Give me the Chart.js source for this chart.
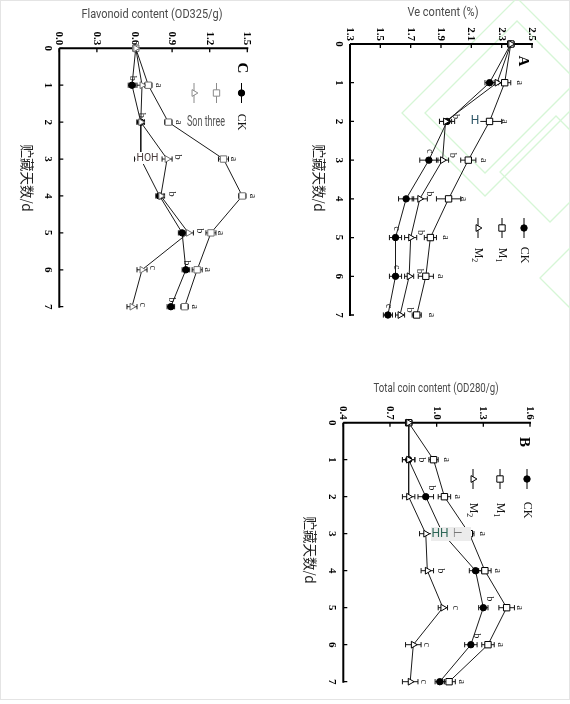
<!DOCTYPE html>
<html>
<head>
<meta charset="utf-8">
<script src="https://cdn.jsdelivr.net/npm/chart.js@4.4.1/dist/chart.umd.min.js"></script>
<style>
  html, body { margin: 0; padding: 0; background: #fff; }
  #wrap { position: relative; width: 570px; height: 704px; overflow: hidden; }
  #frame { position: absolute; left: 0; top: 0; width: 568px; height: 698px; border: 1px solid #e4e4e4; }
  canvas { position: absolute; }
</style>
</head>
<body>
<div id="wrap">
  <div id="frame"></div>
  <canvas id="chartC" width="290" height="340" style="left:0px;top:0px"></canvas>
  <canvas id="chartA" width="280" height="340" style="left:290px;top:0px"></canvas>
  <canvas id="chartB" width="280" height="344" style="left:290px;top:360px"></canvas>
</div>
<script>
// storage days (category axis, drawn vertically)
const days = [0, 1, 2, 3, 4, 5, 6, 7];
const dayTicks = ['0', '1', '2', '3', '4', '5', '6', '7'];

// A - Ve content (%)
const veTicks = [1.3, 1.5, 1.7, 1.9, 2.1, 2.3, 2.5];
const veCK = [2.36, 2.22, 1.94, 1.82, 1.67, 1.60, 1.60, 1.55];
const veM1 = [2.36, 2.32, 2.22, 2.08, 1.95, 1.83, 1.80, 1.74];
const veM2 = [2.36, 2.27, 1.93, 1.91, 1.76, 1.70, 1.69, 1.63];
const veCKErr = [0.02, 0.03, 0.05, 0.06, 0.05, 0.04, 0.04, 0.03];
const veM1Err = [0.02, 0.04, 0.08, 0.05, 0.08, 0.04, 0.05, 0.03];
const veM2Err = [0.02, 0.04, 0.04, 0.04, 0.05, 0.04, 0.03, 0.03];
const veCKSig = ['', '', '', 'c', '', 'c', 'c', 'c'];
const veM1Sig = ['', 'a', 'a', 'a', 'a', 'a', 'a', 'a'];
const veM2Sig = ['', '', 'b', 'b', 'b', 'b', 'b', 'b'];

// C - Flavonoid content (OD325/g)
const flaTicks = [0.0, 0.3, 0.6, 0.9, 1.2, 1.5];
const flaCK = [0.61, 0.58, 0.65, 0.65, 0.80, 0.98, 1.01, 0.89];
const flaM1 = [0.61, 0.71, 0.87, 1.31, 1.46, 1.21, 1.10, 1.00];
const flaM2 = [0.61, 0.66, 0.65, 0.86, 0.81, 1.03, 0.66, 0.58];
const flaCKErr = [0.02, 0.03, 0.03, 0.05, 0.03, 0.03, 0.03, 0.03];
const flaM1Err = [0.02, 0.03, 0.03, 0.04, 0.03, 0.04, 0.04, 0.03];
const flaM2Err = [0.02, 0.04, 0.03, 0.04, 0.03, 0.04, 0.04, 0.04];
const flaCKSig = ['', 'b', 'b', '', '', '', 'b', 'b'];
const flaM1Sig = ['', 'a', 'a', 'a', 'a', 'a', 'a', 'a'];
const flaM2Sig = ['', '', '', 'b', 'b', 'b', 'c', 'c'];

// B - Total coin content (OD280/g)
const tcTicks = [0.4, 0.7, 1.0, 1.3, 1.6];
const tcCK = [0.82, 0.82, 0.93, 1.04, 1.25, 1.30, 1.22, 1.02];
const tcM1 = [0.82, 0.98, 1.05, 1.21, 1.31, 1.45, 1.33, 1.08];
const tcM2 = [0.82, 0.82, 0.82, 0.93, 0.94, 1.04, 0.85, 0.83];
const tcCKErr = [0.02, 0.04, 0.05, 0.04, 0.04, 0.03, 0.04, 0.03];
const tcM1Err = [0.02, 0.03, 0.04, 0.03, 0.04, 0.05, 0.04, 0.04];
const tcM2Err = [0.02, 0.04, 0.04, 0.04, 0.04, 0.03, 0.05, 0.05];
const tcCKSig = ['', '', 'b', '', '', 'b', 'b', ''];
const tcM1Sig = ['', 'a', 'a', 'a', 'a', 'a', 'a', 'a'];
const tcM2Sig = ['', 'b', '', '', 'b', 'c', 'c', 'c'];

const SERIF = '"Liberation Serif", "DejaVu Serif", serif';
const SANS = 'Roboto, "Open Sans", sans-serif';
const CJK = '"Noto Sans CJK SC", sans-serif';
const INK = '#151515';

// marker look per treatment
const markerStyle = {
    CK: { pointStyle: 'circle', radius: 3.2, rotation: 0, fill: '#000' },
    M1: { pointStyle: 'rect', radius: 4.5, rotation: 0, fill: '#fff' },
    M2: { pointStyle: 'triangle', radius: 3.9, rotation: 90, fill: '#fff' },
};

// text rotated 90deg clockwise (whole figure is turned)
function rotText(ctx, text, x, y, font, color, align) {
    ctx.save();
    ctx.translate(x, y);
    ctx.rotate(Math.PI / 2);
    ctx.font = font;
    ctx.fillStyle = color || INK;
    ctx.textAlign = align || 'center';
    ctx.textBaseline = 'middle';
    ctx.fillText(text, 0, 0);
    ctx.restore();
}

function rotSub(ctx, base, sub, x, y) {
    ctx.save();
    ctx.translate(x, y);
    ctx.rotate(Math.PI / 2);
    ctx.fillStyle = INK;
    ctx.textAlign = 'left';
    ctx.textBaseline = 'middle';
    ctx.font = '12px ' + SERIF;
    const w = ctx.measureText(base).width;
    ctx.font = '8px ' + SERIF;
    const ws = ctx.measureText(sub).width;
    const x0 = -(w + ws) / 2;
    ctx.font = '12px ' + SERIF;
    ctx.fillText(base, x0, 0);
    ctx.font = '8px ' + SERIF;
    ctx.fillText(sub, x0 + w, 4);
    ctx.restore();
}

function plainText(ctx, text, x, y, font, color, maxW, bg) {
    ctx.save();
    ctx.font = font;
    ctx.textAlign = 'center';
    ctx.textBaseline = 'middle';
    if (bg) {
        const w = maxW || ctx.measureText(text).width;
        ctx.fillStyle = bg;
        ctx.fillRect(x - w / 2 - 1, y - 6, w + 2, 12);
    }
    ctx.fillStyle = color;
    if (maxW) ctx.fillText(text, x, y, maxW);
    else ctx.fillText(text, x, y);
    ctx.restore();
}

function makePanelPlugin(cfg) {
    return {
        id: 'panel_' + cfg.letter.text,
        beforeDraw(chart) {
            const ctx = chart.ctx;
            ctx.save();
            ctx.strokeStyle = '#d6f6d6';
            ctx.lineWidth = 1.3;
            (cfg.watermark || []).forEach(poly => {
                ctx.beginPath();
                poly.forEach((p, i) => (i ? ctx.lineTo(p[0], p[1]) : ctx.moveTo(p[0], p[1])));
                ctx.closePath();
                ctx.stroke();
            });
            ctx.restore();
        },
        beforeDatasetsDraw(chart) {
            const { ctx, chartArea: ca, scales: { x, y } } = chart;
            ctx.save();
            // axes: value axis on top, day axis on the left
            ctx.strokeStyle = '#000';
            ctx.lineWidth = 2;
            ctx.beginPath();
            ctx.moveTo(ca.left, ca.top);
            ctx.lineTo(ca.right + 1, ca.top);
            ctx.moveTo(ca.left, ca.top);
            ctx.lineTo(ca.left, ca.bottom + 1);
            ctx.stroke();
            ctx.lineWidth = 1.3;
            ctx.beginPath();
            cfg.ticks.forEach(t => {
                const px = x.getPixelForValue(t);
                ctx.moveTo(px, ca.top);
                ctx.lineTo(px, ca.top + 4);
            });
            days.forEach(d => {
                const py = y.getPixelForValue(d);
                ctx.moveTo(ca.left, py);
                ctx.lineTo(ca.left + 4, py);
            });
            ctx.stroke();
            cfg.ticks.forEach(t => {
                rotText(ctx, t.toFixed(1), x.getPixelForValue(t), ca.top - 3, 'bold 11px ' + SERIF, '#000', 'right');
            });
            days.forEach((d, i) => {
                rotText(ctx, dayTicks[i], ca.left - 11, y.getPixelForValue(d), 'bold 11px ' + SERIF, '#000');
            });

            // error bars under the markers
            ctx.strokeStyle = INK;
            ctx.lineWidth = 1;
            chart.data.datasets.forEach(ds => {
                ds.errors.forEach((e, i) => {
                    const p = ds.data[i];
                    const py = y.getPixelForValue(p.y);
                    const x1 = x.getPixelForValue(p.x - e);
                    const x2 = x.getPixelForValue(p.x + e);
                    ctx.beginPath();
                    ctx.moveTo(x1, py); ctx.lineTo(x2, py);
                    ctx.moveTo(x1, py - 2.6); ctx.lineTo(x1, py + 2.6);
                    ctx.moveTo(x2, py - 2.6); ctx.lineTo(x2, py + 2.6);
                    ctx.stroke();
                });
            });
            ctx.restore();
        },
        afterDatasetsDraw(chart) {
            const { ctx, scales: { x, y } } = chart;
            // significance letters
            chart.data.datasets.forEach(ds => {
                const off = cfg.sigOffset[ds.label];
                ds.sig.forEach((s, i) => {
                    if (!s) return;
                    const p = ds.data[i];
                    rotText(ctx, s, x.getPixelForValue(p.x) + off[0], y.getPixelForValue(p.y) + off[1],
                        '10px ' + SERIF, INK);
                });
            });

            // titles and panel letter
            plainText(ctx, cfg.title.text, cfg.title.x, cfg.title.y, '13px ' + SANS, '#4a4a4a', cfg.title.w);
            rotText(ctx, cfg.letter.text, cfg.letter.x, cfg.letter.y, 'bold 15px ' + SERIF, '#000');
            rotText(ctx, '贮藏天数/d', cfg.yTitle.x, cfg.yTitle.y, '13.5px ' + CJK, '#222');

            // legend (rotated, marker on a short vertical stroke)
            const lg = cfg.legend;
            lg.items.forEach(it => {
                const st = markerStyle[it.key];
                const col = it.color || '#000';
                ctx.save();
                ctx.strokeStyle = col;
                ctx.lineWidth = 1;
                ctx.beginPath();
                ctx.moveTo(it.x, lg.y - 10);
                ctx.lineTo(it.x, lg.y + 10);
                ctx.stroke();
                ctx.fillStyle = st.fill === '#000' ? col : '#fff';
                Chart.helpers.drawPoint(ctx, {
                    pointStyle: st.pointStyle, radius: st.radius, rotation: st.rotation, borderWidth: 1,
                }, it.x, lg.y);
                ctx.restore();
                if (!it.label) return;
                if (it.key === 'CK') rotText(ctx, 'CK', it.x, lg.labelY, '12px ' + SERIF, INK);
                else rotSub(ctx, 'M', it.key.slice(1), it.x, lg.labelY);
            });

            // text pieces left over on top of the figure
            (cfg.overlays || []).forEach(o => {
                if (o.box) {
                    ctx.save();
                    ctx.fillStyle = o.box.color;
                    ctx.fillRect(o.box.x, o.box.y, o.box.w, o.box.h);
                    ctx.restore();
                }
                plainText(ctx, o.text, o.x, o.y, o.font || ('12px ' + SANS), o.color, o.w, o.bg);
            });
        },
    };
}

function makePanel(canvasId, cfg) {
    const ctx = document.getElementById(canvasId);
    const datasets = cfg.series.map(([key, values, errors, sig]) => {
        const st = markerStyle[key];
        return {
            label: key,
            data: days.map((d, i) => ({ x: values[i], y: d })),
            errors,
            sig,
            showLine: true,
            borderColor: '#1a1a1a',
            borderWidth: 1,
            pointStyle: st.pointStyle,
            pointRadius: st.radius,
            pointRotation: st.rotation,
            pointBackgroundColor: st.fill,
            pointBorderColor: cfg.markerColor && key !== 'CK' ? cfg.markerColor : '#000',
            pointBorderWidth: 1,
            clip: false,
        };
    });
    // draw CK on top, like the original
    datasets.reverse();

    return new Chart(ctx, {
        type: 'scatter',
        data: { datasets },
        options: {
            responsive: false,
            animation: false,
            layout: { padding: cfg.padding },
            scales: {
                x: { type: 'linear', min: cfg.ticks[0], max: cfg.ticks[cfg.ticks.length - 1], display: false },
                y: { type: 'linear', min: days[0], max: days[days.length - 1], reverse: true, display: false },
            },
            plugins: { legend: { display: false }, tooltip: { enabled: false } },
        },
        plugins: [makePanelPlugin(cfg)],
    });
}

makePanel('chartA', {
    ticks: veTicks,
    padding: { left: 60, right: 38, top: 44, bottom: 25 },
    series: [['CK', veCK, veCKErr, veCKSig], ['M1', veM1, veM1Err, veM1Sig], ['M2', veM2, veM2Err, veM2Sig]],
    sigOffset: { CK: [1, -9], M1: [15, 0], M2: [10, -5] },
    title: { text: 'Ve content (%)', x: 153, y: 13, w: 71 },
    letter: { text: 'A', x: 233, y: 61 },
    yTitle: { x: 29, y: 178 },
    legend: {
        y: 228, labelY: 255,
        items: [{ key: 'CK', x: 234, label: true }, { key: 'M1', x: 212, label: true }, { key: 'M2', x: 188, label: true }],
    },
    watermark: [
        [[112, 113], [227, -2], [310, 81], [195, 196]],
        [[135, 113], [227, 21], [287, 81], [195, 173]],
        [[210, 172], [266, 116], [316, 166], [260, 222]],
        [[250, 278], [285, 243], [320, 278], [285, 313]],
    ],
    overlays: [
        { text: 'H', x: 185, y: 121, color: '#2d5566', bg: '#fff' },
    ],
});

makePanel('chartC', {
    ticks: flaTicks,
    padding: { left: 59.3, right: 42.7, top: 48.3, bottom: 33.3 },
    series: [['CK', flaCK, flaCKErr, flaCKSig], ['M1', flaM1, flaM1Err, flaM1Sig], ['M2', flaM2, flaM2Err, flaM2Sig]],
    sigOffset: { CK: [1, -7], M1: [10, 0], M2: [11, -2] },
    markerColor: '#6f6f6f',
    title: { text: 'Flavonoid content (OD325/g)', x: 152, y: 15, w: 141 },
    letter: { text: 'C', x: 242, y: 68 },
    yTitle: { x: 27, y: 178 },
    legend: {
        y: 93, labelY: 122,
        items: [{ key: 'CK', x: 241.5, label: true }, { key: 'M1', x: 216.5, color: '#8a8a8a' }, { key: 'M2', x: 194, color: '#8a8a8a' }],
    },
    overlays: [
        { text: 'Son three', x: 206, y: 122, color: '#555', font: '15px ' + SANS, w: 38 },
        { text: 'HOH', x: 147.5, y: 158, color: '#4b3d3d', font: '11px ' + SANS, w: 22, bg: '#fff' },
    ],
});

makePanel('chartB', {
    ticks: tcTicks,
    padding: { left: 53.3, right: 40, top: 62.7, bottom: 22.3 },
    series: [['CK', tcCK, tcCKErr, tcCKSig], ['M1', tcM1, tcM1Err, tcM1Sig], ['M2', tcM2, tcM2Err, tcM2Sig]],
    sigOffset: { CK: [6, -9], M1: [13, 0], M2: [13, 0] },
    title: { text: 'Total coin content (OD280/g)', x: 146, y: 29, w: 125 },
    letter: { text: 'B', x: 234, y: 82 },
    yTitle: { x: 20, y: 190 },
    legend: {
        y: 119, labelY: 150,
        items: [{ key: 'CK', x: 237, label: true }, { key: 'M1', x: 210, label: true }, { key: 'M2', x: 183, label: true }],
    },
    overlays: [
        { text: 'HH', x: 150, y: 174, color: '#2d6656', font: '12px ' + SANS,
          box: { x: 141, y: 167, w: 40, h: 14, color: '#ececec' } },
        { text: '⊢', x: 168, y: 174, color: '#777', font: '11px ' + SANS },
    ],
});
</script>
</body>
</html>
